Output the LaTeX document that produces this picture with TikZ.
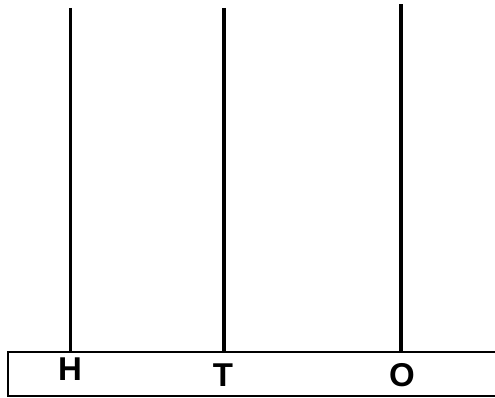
\documentclass[tikz,border=0pt]{standalone}
\usepackage{fontspec}
\setmainfont{Liberation Sans}
\tikzset{rod/.style={line width=3.2pt},
  label/.style={font=\fontsize{33}{33}\selectfont\bfseries, inner sep=0pt}}

\begin{document}
\begin{tikzpicture}[x=1pt,y=1pt]
  \useasboundingbox (0,0) rectangle (495,398);
  \draw[line width=2pt] (8,2) rectangle (498,46);
  \coordinate (h) at (70.5,390);
  \coordinate (t) at (224,390);
  \coordinate (o) at (401,393.5);
  \draw[rod] (h) -- (h |- 0,46);
  \draw[rod] (t) -- (t |- 0,46);
  \draw[rod] (o) -- (o |- 0,46);
  \node[label] (H) at (70,29) {H};
  \node[label] (T) at (223,23) {T};
  \node[label] (O) at (402,23) {O};
\end{tikzpicture}
\end{document}
